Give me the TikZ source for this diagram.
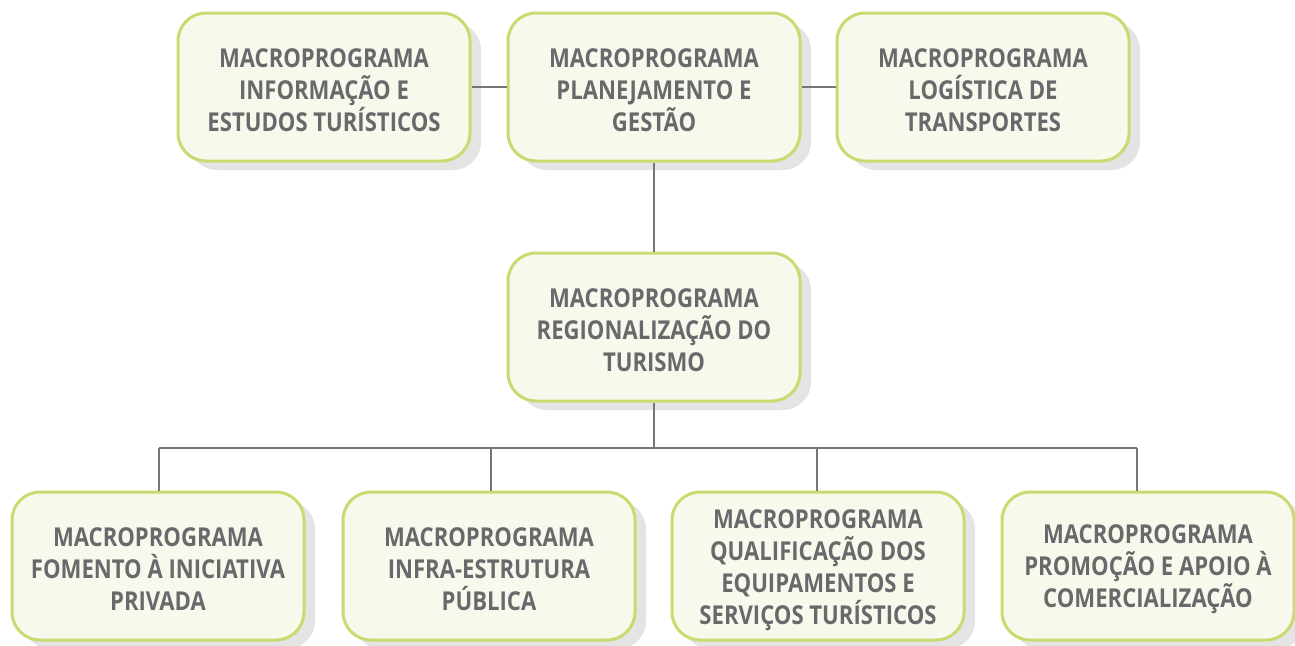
\documentclass[tikz,border=0pt]{standalone}
\usepackage{fontspec}
\setmainfont{Open Sans}[FakeStretch=0.85]
\usetikzlibrary{shadows}
\definecolor{boxfill}{RGB}{247,249,237}
\definecolor{boxline}{RGB}{201,219,112}
\definecolor{txtgray}{RGB}{105,105,107}
\definecolor{linegray}{RGB}{118,118,118}
\definecolor{shadowgray}{RGB}{228,228,228}
\tikzset{
  mbox/.style={rectangle, rounded corners=28pt, minimum width=292pt, minimum height=148pt,
    inner sep=0pt, draw=boxline, line width=3pt, fill=boxfill,
    drop shadow={shadow xshift=11pt, shadow yshift=-9pt, fill=shadowgray, opacity=1}},
  mtext/.style={inner sep=0pt, align=center, text=txtgray,
    font=\fontsize{26}{32}\selectfont\bfseries},
  link/.style={draw=linegray, line width=1.3pt}
}
\begin{document}
\begin{tikzpicture}[x=1pt,y=-1pt]
\useasboundingbox (0,0) rectangle (1295,645);
\coordinate (bus) at (654,448);
\coordinate (d1) at (159,448);
\coordinate (d2) at (491,448);
\coordinate (d3) at (817,448);
\coordinate (d4) at (1137,448);
\node[mbox] (info) at (324,87) {};
\node[mbox] (plan) at (654,87) {};
\node[mbox] (log) at (983,87) {};
\node[mbox] (reg) at (654,327) {};
\node[mbox] (fom) at (158,566) {};
\node[mbox] (inf) at (489,566) {};
\node[mbox] (qua) at (818,566) {};
\node[mbox] (pro) at (1148,566) {};
\node[mtext] (info-t) at ([yshift=-3pt]info.center) {MACROPROGRAMA\\INFORMAÇÃO E\\ESTUDOS TURÍSTICOS};
\node[mtext] (plan-t) at ([yshift=-3pt]plan.center) {MACROPROGRAMA\\PLANEJAMENTO E\\GESTÃO};
\node[mtext] (log-t) at ([yshift=-3pt]log.center) {MACROPROGRAMA\\LOGÍSTICA DE\\TRANSPORTES};
\node[mtext] (reg-t) at ([yshift=-3pt]reg.center) {MACROPROGRAMA\\REGIONALIZAÇÃO DO\\TURISMO};
\node[mtext] (fom-t) at ([yshift=-3pt]fom.center) {MACROPROGRAMA\\FOMENTO À INICIATIVA\\PRIVADA};
\node[mtext] (inf-t) at ([yshift=-3pt]inf.center) {MACROPROGRAMA\\INFRA-ESTRUTURA\\PÚBLICA};
\node[mtext] (qua-t) at ([yshift=-4pt]qua.center) {MACROPROGRAMA\\QUALIFICAÇÃO DOS\\EQUIPAMENTOS E\\SERVIÇOS TURÍSTICOS};
\node[mtext] (pro-t) at ([yshift=-3pt]pro.center) {MACROPROGRAMA\\PROMOÇÃO E APOIO À\\COMERCIALIZAÇÃO};
\path[link] (info.east) -- (plan.west);
\path[link] (plan.east) -- (log.west);
\path[link] (plan.south) -- (reg.north);
\path[link] (reg.south) -- (bus);
\path[link] (d1) -- (d4);
\path[link] (d1) -- (d1 |- fom.north);
\path[link] (d2) -- (d2 |- inf.north);
\path[link] (d3) -- (d3 |- qua.north);
\path[link] (d4) -- (d4 |- pro.north);
\end{tikzpicture}
\end{document}
